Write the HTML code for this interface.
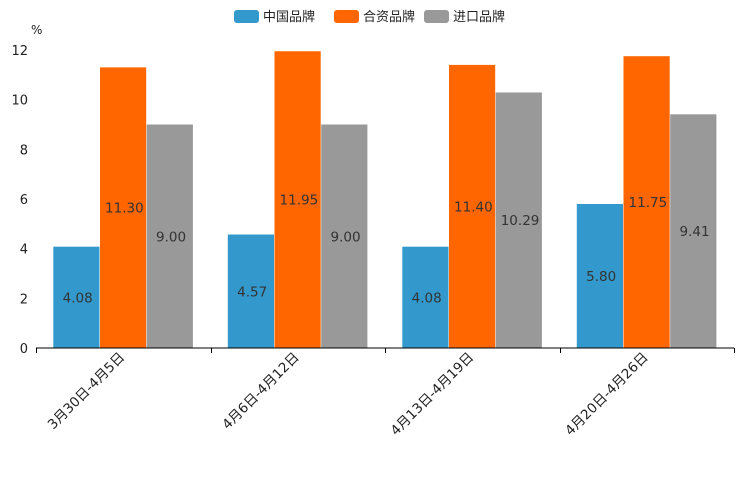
<!DOCTYPE html>
<html><head><meta charset="utf-8"><style>
body{margin:0;background:#fff;width:744px;height:496px;overflow:hidden}
text{font-family:"DejaVu Sans","Noto Sans CJK SC",sans-serif;}
</style></head><body>
<svg id="chart" width="744" height="496" xmlns="http://www.w3.org/2000/svg"></svg>
<script>
const categories=["3月30日-4月5日","4月6日-4月12日","4月13日-4月19日","4月20日-4月26日"];
const seriesNames=["中国品牌","合资品牌","进口品牌"];
const chinaValues=[4.08,4.57,4.08,5.80];
const jvValues=[11.30,11.95,11.40,11.75];
const importValues=[9.00,9.00,10.29,9.41];
const yTicks=[0,2,4,6,8,10,12];
const colors=["#3399cc","#ff6600","#999999"];
const series=[chinaValues,jvValues,importValues];
const svg=document.getElementById('chart');
const NS="http://www.w3.org/2000/svg";
const x0=36,x1=734,yBase=348,yTop=50,yMax=12;
const y=v=>yBase-(v/yMax)*(yBase-yTop);
const gw=(x1-x0)/categories.length;
function mk(tag,attrs,txt){const e=document.createElementNS(NS,tag);for(const k in attrs)e.setAttribute(k,attrs[k]);if(txt!=null)e.textContent=txt;svg.appendChild(e);return e;}
yTicks.forEach(t=>{const e=mk('text',{x:28,y:y(t)+5,'text-anchor':'end','font-size':13,fill:'#222'},t.toFixed(0));

});
const u=mk('text',{x:31,y:34,'font-size':12,fill:'#222'},'%');


const bw=46.7,pad=17.3;
categories.forEach((c,i)=>{
 const gx=x0+i*gw;
 series.forEach((s,j)=>{
  const bx=gx+pad+j*bw, v=s[i];
  const r=mk('rect',{x:bx,y:y(v),width:bw-0.5,height:yBase-y(v),fill:colors[j]});
  
  
  const l=mk('text',{x:bx+bw/2+1,y:(y(v)+yBase)/2+5,'text-anchor':'middle','font-size':13.5,fill:'#333'},v.toFixed(2));
  
  
 });
 const cx=gx+gw/2;
 const t=mk('text',{x:cx+2,y:358,'text-anchor':'end','font-size':13.5,fill:'#222',transform:`rotate(-45 ${cx+2} 358)`},c);
 
 
});
const ax=mk('line',{x1:x0,y1:yBase,x2:x1,y2:yBase,stroke:'#000','stroke-width':1});


for(let i=0;i<=categories.length;i++){const tx=Math.round(x0+i*gw)+0.5;
 const tk=mk('line',{x1:tx,y1:yBase,x2:tx,y2:yBase+5,stroke:'#000'});
 
 }
const lx=[234,334,424];
seriesNames.forEach((n,j)=>{
 const r=mk('rect',{x:lx[j],y:10,width:25,height:13,rx:3,fill:colors[j]});
 
 
 const t=mk('text',{x:lx[j]+29,y:21,'font-size':13,fill:'#222'},n);
 
 
});
</script>
</body></html>
